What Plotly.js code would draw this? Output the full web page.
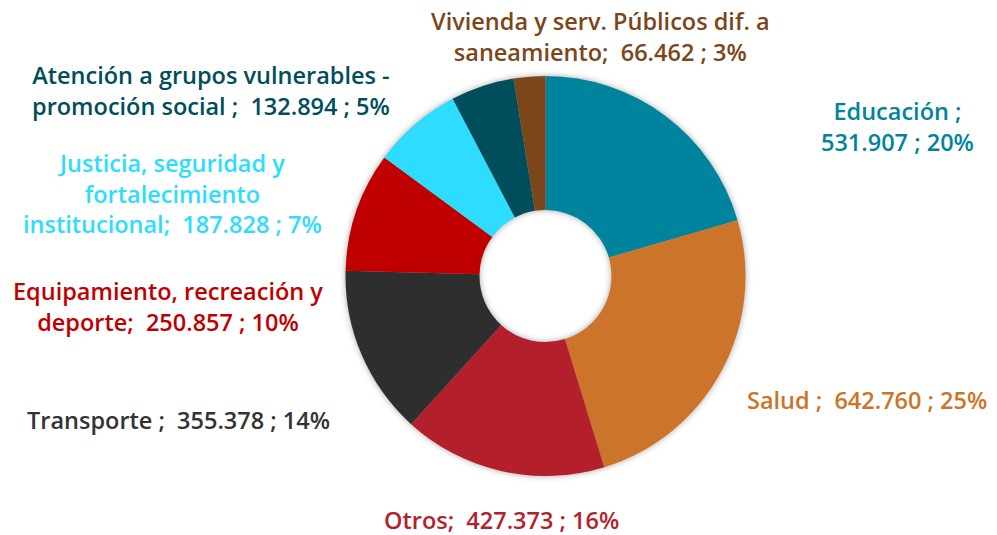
<!DOCTYPE html>
<html>
<head>
<meta charset="utf-8">
<script src="https://cdn.plot.ly/plotly-3.0.1.min.js"></script>
<style>
html,body{margin:0;padding:0;background:#fff;}
#chart{width:997px;height:535px;}
.pielayer{filter:drop-shadow(0 0 3px rgba(0,0,0,0.35));}
</style>
</head>
<body>
<div id="chart"></div>
<script>
// Data
const categories = [
  "Educación",
  "Salud",
  "Otros",
  "Transporte",
  "Equipamiento, recreación y deporte",
  "Justicia, seguridad y fortalecimiento institucional",
  "Atención a grupos vulnerables - promoción social",
  "Vivienda y serv. Públicos dif. a saneamiento"
];
const values = [531907, 642760, 427373, 355378, 250857, 187828, 132894, 66462];
const percents = [20, 25, 16, 14, 10, 7, 5, 3];
// label text heads (with line breaks as in the reference)
const labelHeads = [
  "Educación ;<br>",
  "Salud ;&nbsp; ",
  "Otros;&nbsp; ",
  "Transporte ;&nbsp; ",
  "Equipamiento, recreación y<br>deporte;&nbsp; ",
  "Justicia, seguridad y<br>fortalecimiento<br>institucional;&nbsp; ",
  "Atención a grupos vulnerables -<br>promoción social ;&nbsp; ",
  "Vivienda y serv. Públicos dif. a<br>saneamiento;&nbsp; "
];

// Styles
const colors = ["#00849D", "#CC7429", "#B41F2C", "#2E2E2E", "#C00000", "#2EDCFF", "#004D5C", "#7B4619"];
const textColors = ["#00849D", "#CC7429", "#B41F2C", "#333333", "#C00000", "#2EDCFF", "#004D5C", "#7B4619"];
// label centres in pixels (x, y)
const labelPos = [[897, 127], [867, 400], [502, 520], [178, 420], [168, 306], [172, 193], [211, 90], [600, 36]];

const W = 997, H = 535;
function fmt(v){ return v.toString().replace(/\B(?=(\d{3})+(?!\d))/g, "."); }

const annotations = categories.map((c, i) => ({
  xref: "paper", yref: "paper",
  x: labelPos[i][0] / W, y: 1 - labelPos[i][1] / H,
  xanchor: "center", yanchor: "middle",
  text: labelHeads[i] + fmt(values[i]) + " ; " + percents[i] + "%",
  showarrow: false, align: "center",
  font: {family: "'Open Sans', sans-serif", size: 23.5, color: textColors[i], weight: 600}
}));

const trace = {
  type: "pie",
  labels: categories,
  values: values,
  hole: 0.33,
  sort: false,
  direction: "clockwise",
  rotation: 0,
  textinfo: "none",
  hoverinfo: "label+value+percent",
  marker: {colors: colors, line: {width: 0}},
  domain: {x: [345 / W, 746 / W], y: [59 / H, 459 / H]},
  showlegend: false
};

Plotly.newPlot("chart", [trace], {
  width: W, height: H,
  margin: {l: 0, r: 0, t: 0, b: 0},
  paper_bgcolor: "#ffffff",
  showlegend: false,
  annotations: annotations
}, {displayModeBar: false, staticPlot: true});
</script>
</body>
</html>
